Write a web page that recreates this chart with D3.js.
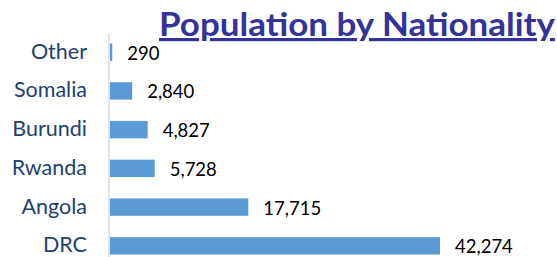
<!DOCTYPE html>
<html>
<head>
<meta charset="utf-8">
<script src="https://cdn.jsdelivr.net/npm/d3@7"></script>
<style>
  body { margin: 0; background: #fff; }
  svg { display: block; }
</style>
</head>
<body>
<svg id="chart" width="557" height="257"></svg>
<script>
let categories = ["Other", "Somalia", "Burundi", "Rwanda", "Angola", "DRC"];
let values = [290, 2840, 4827, 5728, 17715, 42274];
let title_text = "Population by Nationality";

let margin = { top: 33, right: 117, bottom: 0, left: 110 };

let svg = d3.select("#chart");
let width = +svg.attr("width") - margin.left - margin.right;
let height = +svg.attr("height") - margin.top - margin.bottom;

let g = svg.append("g").attr("transform", `translate(${margin.left}, ${margin.top})`);

let x = d3.scaleLinear()
    .domain([0, 42274])
    .range([0, 330]);

let y = d3.scaleBand()
    .domain(categories)
    .range([0, 232])
    .paddingInner(0.55)
    .paddingOuter(0.27);

// axis line
g.append("line")
    .attr("x1", -1).attr("x2", -1)
    .attr("y1", 0).attr("y2", height)
    .attr("stroke", "#d9d9d9")
    .attr("stroke-width", 1.5);

g.selectAll(".bar")
    .data(values)
    .enter().append("rect")
        .attr("class", "bar")
        .attr("x", 0)
        .attr("y", (d, i) => y(categories[i]))
        .attr("width", d => x(d))
        .attr("height", y.bandwidth())
        .attr("fill", "#5b9bd5");

g.selectAll(".cat")
    .data(categories)
    .enter().append("text")
        .attr("class", "cat")
        .attr("x", -23)
        .attr("y", d => y(d) + y.bandwidth() / 2 - 1)
        .attr("dy", "0.35em")
        .attr("text-anchor", "end")
        .attr("font-family", "Lato, 'Open Sans', sans-serif")
        .attr("font-size", "21.5px")
        .attr("fill", "#1f416f")
        .text(d => d);

g.selectAll(".val")
    .data(values)
    .enter().append("text")
        .attr("class", "val")
        .attr("x", d => x(d) + 15)
        .attr("y", (d, i) => y(categories[i]) + y.bandwidth() / 2 + 1)
        .attr("dy", "0.35em")
        .attr("font-family", "Lato, 'Open Sans', sans-serif")
        .attr("font-size", "18.5px")
        .attr("fill", "#000")
        .text(d => d3.format(",")(d));

svg.append("text")
    .attr("x", 555)
    .attr("y", 36)
    .attr("text-anchor", "end")
    .attr("font-family", "Lato, 'Open Sans', sans-serif")
    .attr("font-weight", "bold")
    .attr("font-size", "32px")
    .attr("textLength", 396)
    .attr("lengthAdjust", "spacingAndGlyphs")
    .attr("fill", "#333399")
    .attr("text-decoration", "underline")
    .text(title_text);
</script>
</body>
</html>
